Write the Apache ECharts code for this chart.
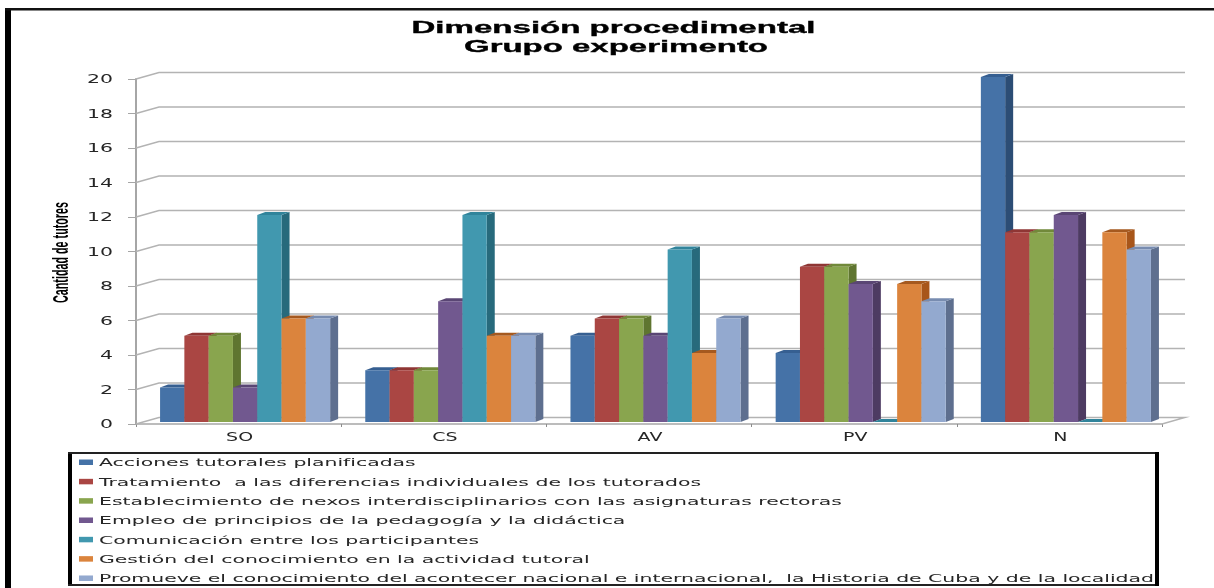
<!DOCTYPE html>
<html lang="es">
<head>
<meta charset="utf-8">
<title>Dimensión procedimental</title>
<style>
html,body{margin:0;padding:0;background:#fff}
#c{width:1214px;height:588px;filter:blur(0.5px)}
</style>
<script src="https://cdn.jsdelivr.net/npm/echarts@6/dist/echarts.min.js"></script>
</head>
<body>
<div id="c"></div>
<script>
const categories = ['SO', 'CS', 'AV', 'PV', 'N'];
const yTicks = [0, 2, 4, 6, 8, 10, 12, 14, 16, 18, 20];
const titleLines = ['Dimensión procedimental', 'Grupo experimento'];
const yTitle = 'Cantidad de tutores';

const acciones = [2, 3, 5, 4, 20];
const tratamiento = [5, 3, 6, 9, 11];
const establecimiento = [5, 3, 6, 9, 11];
const empleo = [2, 7, 5, 8, 12];
const comunicacion = [12, 12, 10, 0, 0];
const gestion = [6, 5, 4, 8, 11];
const promueve = [6, 5, 6, 7, 10];

const seriesNames = [
  'Acciones tutorales planificadas',
  'Tratamiento  a las diferencias individuales de los tutorados',
  'Establecimiento de nexos interdisciplinarios con las asignaturas rectoras',
  'Empleo de principios de la pedagogía y la didáctica',
  'Comunicación entre los participantes',
  'Gestión del conocimiento en la actividad tutoral',
  'Promueve el conocimiento del acontecer nacional e internacional,  la Historia de Cuba y de la localidad'
];
const seriesValues = [acciones, tratamiento, establecimiento, empleo, comunicacion, gestion, promueve];
const frontColors = ['#4572a7', '#aa4643', '#89a54e', '#71588f', '#4198af', '#db843d', '#93a9cf'];
const sideColors = ['#2c4d75', '#772c2a', '#5f7530', '#4d3b62', '#276a7c', '#a8561a', '#5e6f8f'];
const topColors = ['#365f91', '#8f3634', '#71893a', '#5a4674', '#31849b', '#a5591f', '#788cb0'];

const WALL_DX = 23, WALL_DY = -6.5;
const BAR_DX = 8, BAR_DY = -3, SHIFT_X = 6.5, SHIFT_Y = -2;
const BAR_FRAC = 0.1184;
const GRID_COLOR = '#b3b3b3', AXIS_COLOR = '#a6a6a6', TEXT_COLOR = '#262626';

const meter = document.createElement('canvas').getContext('2d');
function fitScale(text, font, target) {
  meter.font = font;
  return target / meter.measureText(text).width;
}

const tickFont = '11.5px "DejaVu Sans"';
const tickScale = fitScale('20', tickFont, 26);
const catScale = fitScale('SO', tickFont, 27);

function gridItem(params, api) {
  const v = api.value(0);
  const cs = params.coordSys;
  const y = api.coord([0, v])[1];
  const x0 = cs.x, x1 = cs.x + cs.width;
  const children = [{
    type: 'polyline',
    shape: { points: v === 0
      ? [[x0, y], [x0 + WALL_DX, y + WALL_DY], [x1 + WALL_DX, y + WALL_DY], [x1, y]]
      : [[x0, y], [x0 + WALL_DX, y + WALL_DY], [x1 + WALL_DX, y + WALL_DY]] },
    style: { stroke: GRID_COLOR, lineWidth: 1.4, fill: null }
  }, {
    type: 'text', x: x0 - 23, y: y + 1.5, scaleX: tickScale,
    style: { text: String(v), fontSize: 11.5, fontFamily: 'DejaVu Sans', fill: TEXT_COLOR, align: 'right', verticalAlign: 'middle' }
  }];
  return { type: 'group', children };
}

function catItem(params, api) {
  const p = api.coord([api.value(0), 0]);
  return {
    type: 'text', x: p[0] + 1, y: p[1] + 14.5, scaleX: catScale,
    style: { text: categories[api.value(0)], fontSize: 11.5, fontFamily: 'DejaVu Sans', fill: TEXT_COLOR, align: 'center', verticalAlign: 'middle' }
  };
}

function barRenderer(si) {
  return function (params, api) {
    const cat = api.value(0), val = api.value(1);
    const base = api.coord([cat, 0]);
    const topP = api.coord([cat, val]);
    const band = api.size([1, 0])[0];
    const w = band * BAR_FRAC;
    const x = base[0] + SHIFT_X + (si - 3.5) * w;
    const yB = base[1] + SHIFT_Y, yT = topP[1] + SHIFT_Y;
    const dx = BAR_DX, dy = BAR_DY;
    return {
      type: 'group',
      children: [
        { type: 'polygon', shape: { points: [[x + w, yB], [x + w + dx, yB + dy], [x + w + dx, yT + dy], [x + w, yT]] }, style: { fill: sideColors[si] } },
        { type: 'polygon', shape: { points: [[x, yT], [x + dx, yT + dy], [x + w + dx, yT + dy], [x + w, yT]] }, style: { fill: topColors[si] } },
        { type: 'rect', shape: { x: x, y: yT, width: w, height: yB - yT }, style: { fill: frontColors[si] } }
      ]
    };
  };
}

const series = [
  { type: 'custom', name: 'rejilla', silent: true, z: 1, coordinateSystem: 'cartesian2d', encode: { y: 0 },
    data: yTicks.map(v => [v]), renderItem: gridItem, clip: false },
  { type: 'custom', name: 'categorias', silent: true, z: 1, coordinateSystem: 'cartesian2d', encode: { x: 0 },
    data: categories.map((c, i) => [i]), renderItem: catItem, clip: false }
];
seriesNames.forEach((name, si) => {
  series.push({
    type: 'custom', name, z: 5 + si, coordinateSystem: 'cartesian2d', clip: false,
    encode: { x: 0, y: 1 },
    data: seriesValues[si].map((v, i) => [i, v]),
    renderItem: barRenderer(si)
  });
});

const titleFont = 'bold 17px "Liberation Sans"';
const yTitleFont = 'bold 22px "Liberation Sans"';
const legendFont = '10.5px "DejaVu Sans"';
const legendScale = fitScale(seriesNames[6], legendFont, 1055);
const graphic = [
  { type: 'rect', shape: { x: 5, y: 8, width: 6, height: 580 }, style: { fill: '#000' } },
  { type: 'rect', shape: { x: 5, y: 8, width: 1209, height: 2.6 }, style: { fill: '#111' } },
  { type: 'rect', shape: { x: 68, y: 452, width: 4, height: 134 }, style: { fill: '#000' } },
  { type: 'rect', shape: { x: 68, y: 452, width: 1091, height: 2 }, style: { fill: '#222' } },
  { type: 'rect', shape: { x: 68, y: 584, width: 1091, height: 2 }, style: { fill: '#222' } },
  { type: 'rect', shape: { x: 1155, y: 452, width: 4, height: 134 }, style: { fill: '#000' } },
  { type: 'text', x: 613.5, y: 28, scaleX: fitScale(titleLines[0], titleFont, 404),
    style: { text: titleLines[0], font: titleFont, fill: '#000', stroke: '#000', lineWidth: 0.35, align: 'center', verticalAlign: 'middle' } },
  { type: 'text', x: 616, y: 47, scaleX: fitScale(titleLines[1], titleFont, 304),
    style: { text: titleLines[1], font: titleFont, fill: '#000', stroke: '#000', lineWidth: 0.35, align: 'center', verticalAlign: 'middle' } },
  { type: 'text', x: 62, y: 252.5, rotation: Math.PI / 2, scaleX: fitScale(yTitle, yTitleFont, 101),
    style: { text: yTitle, font: yTitleFont, fill: '#000', align: 'center', verticalAlign: 'middle' } }
];
seriesNames.forEach((name, i) => {
  const cy = 462 + i * 19.33;
  graphic.push({ type: 'rect', shape: { x: 79, y: cy - 2.5, width: 14, height: 5.5 }, style: { fill: frontColors[i] } });
  graphic.push({ type: 'text', x: 99, y: cy + 1.5, scaleX: legendScale,
    style: { text: name, font: legendFont, fill: TEXT_COLOR, align: 'left', verticalAlign: 'middle' } });
});

const chart = echarts.init(document.getElementById('c'), null, { renderer: 'canvas' });
chart.setOption({
  animation: false,
  backgroundColor: '#fff',
  grid: { left: 136, right: 52, top: 79, bottom: 164, containLabel: false },
  xAxis: {
    type: 'category', data: categories,
    axisLine: { lineStyle: { color: AXIS_COLOR, width: 1.6 } },
    axisTick: { show: true, length: 3, alignWithLabel: false, lineStyle: { color: '#8c8c8c' } },
    axisLabel: { show: false }, splitLine: { show: false }
  },
  yAxis: {
    type: 'value', min: 0, max: 20, interval: 2,
    axisLine: { show: true, lineStyle: { color: AXIS_COLOR, width: 2 } },
    axisTick: { show: true, length: 8, lineStyle: { color: AXIS_COLOR } },
    axisLabel: { show: false }, splitLine: { show: false }
  },
  graphic,
  series
});
</script>
</body>
</html>
